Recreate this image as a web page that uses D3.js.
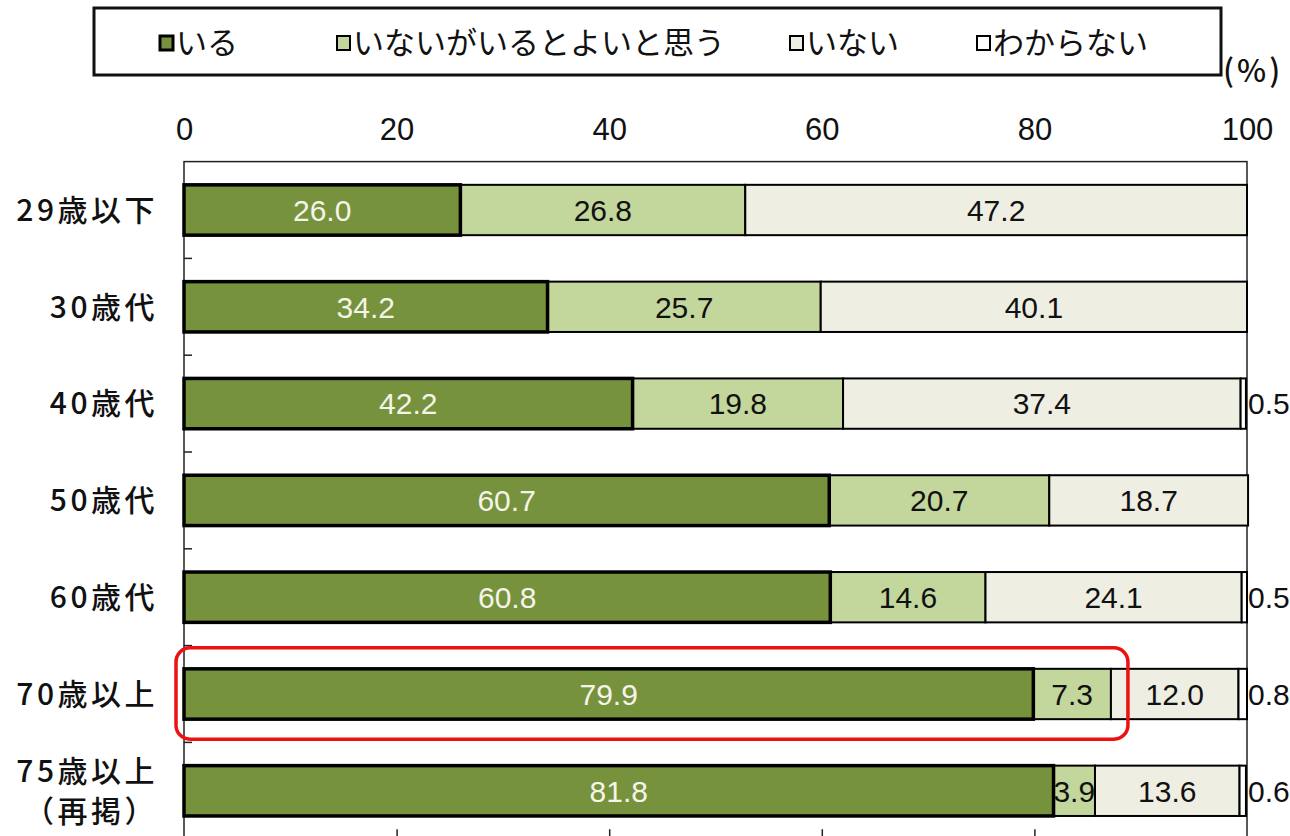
<!DOCTYPE html>
<html>
<head>
<meta charset="utf-8">
<script src="https://cdn.jsdelivr.net/npm/d3@7"></script>
<style>
  body { margin: 0; background: #fff; }
  svg { display: block; }
</style>
</head>
<body>
<div id="chart"></div>
<script>
// ── Data ──
const categories = ['29歳以下', '30歳代', '40歳代', '50歳代', '60歳代', '70歳以上', '75歳以上\n（再掲）'];
const seriesNames = ['いる', 'いないがいるとよいと思う', 'いない', 'わからない'];
const iru        = [26.0, 34.2, 42.2, 60.7, 60.8, 79.9, 81.8];
const inaiGaYoi  = [26.8, 25.7, 19.8, 20.7, 14.6, 7.3, 3.9];
const inai       = [47.2, 40.1, 37.4, 18.7, 24.1, 12.0, 13.6];
const wakaranai  = [0, 0, 0.5, 0, 0.5, 0.8, 0.6];
const xTicks = [0, 20, 40, 60, 80, 100];
const highlighted = '70歳以上';

// ── Layout / style ──
const W = 1290, H = 836;
const COL = ['#76923c', '#c3d69b', '#eeeee2', '#ffffff'];
const STROKE_W = [3.5, 2, 2, 2];
const LABEL_COL = ['#f4f4e8', '#111', '#111', '#111'];
const legendX = [160, 337, 790, 977];
const NUM_FONT = "'Liberation Sans', Arial, sans-serif";
const JP_FONT = "'Noto Sans CJK JP', 'Noto Sans', sans-serif";

const rows = categories.map((c, i) => ({
  cat: c,
  values: [iru[i], inaiGaYoi[i], inai[i], wakaranai[i]],
}));

const svg = d3.select('#chart').append('svg')
  .attr('width', W).attr('height', H)
  .attr('viewBox', `0 0 ${W} ${H}`);

const x = d3.scaleLinear().domain([0, 100]).range([184, 1247]);
const y = d3.scaleBand().domain(categories).range([161.6, 839.2])
  .paddingInner(0.48).paddingOuter(0.24);

// Plot frame
svg.append('rect')
  .attr('x', x(0)).attr('y', y.range()[0])
  .attr('width', x(100) - x(0)).attr('height', y.range()[1] - y.range()[0])
  .attr('fill', 'none').attr('stroke', '#222').attr('stroke-width', 1.5);

// Top tick labels
const topAxis = svg.append('g')
  .attr('transform', `translate(0,${y.range()[0]})`)
  .call(d3.axisTop(x).tickValues(xTicks).tickSize(0).tickPadding(22));
topAxis.select('.domain').remove();
topAxis.selectAll('text')
  .attr('font-family', NUM_FONT).attr('font-size', 31).attr('fill', '#111');

// Bottom ticks (inward)
const botAxis = svg.append('g')
  .attr('transform', `translate(0,${y.range()[1]})`)
  .call(d3.axisBottom(x).tickValues(xTicks.slice(1, -1)).tickSize(-10).tickFormat(''));
botAxis.select('.domain').remove();
botAxis.selectAll('line').attr('stroke', '#222').attr('stroke-width', 1.5);

// Category separator ticks on left axis
const step = y.step();
svg.append('g').selectAll('line')
  .data(categories.slice(1))
  .join('line')
  .attr('x1', x(0)).attr('x2', x(0) + 8)
  .attr('y1', (d, i) => y.range()[0] + (i + 1) * step)
  .attr('y2', (d, i) => y.range()[0] + (i + 1) * step)
  .attr('stroke', '#222').attr('stroke-width', 1.5);

// Category labels
const catG = svg.append('g');
rows.forEach(r => {
  const lines = r.cat.split('\n');
  const cy = y(r.cat) + y.bandwidth() / 2;
  const t = catG.append('text')
    .attr('x', 158).attr('text-anchor', 'end')
    .attr('font-family', JP_FONT).attr('font-size', 30).attr('font-weight', 500)
    .attr('letter-spacing', 3.5)
    .attr('fill', '#111');
  lines.forEach((ln, j) => {
    t.append('tspan')
      .attr('x', 158)
      .attr('y', cy + (j - (lines.length - 1) / 2) * 40)
      .attr('dy', '0.36em')
      .text(ln);
  });
});

// Bars
const segs = [];
rows.forEach(r => {
  let acc = 0;
  r.values.forEach((v, k) => {
    segs.push({ cat: r.cat, k, v, x0: acc, x1: acc + v });
    acc += v;
  });
});

const barG = svg.append('g');
// draw light series first so the thick いる border sits on top
[1, 2, 3, 0].forEach(k => {
  barG.selectAll(`rect.s${k}`)
    .data(segs.filter(s => s.k === k && s.v > 0))
    .join('rect')
    .attr('class', `s${k}`)
    .attr('x', d => x(d.x0)).attr('y', d => y(d.cat))
    .attr('width', d => x(d.x1) - x(d.x0)).attr('height', y.bandwidth())
    .attr('fill', COL[k]).attr('stroke', '#000').attr('stroke-width', STROKE_W[k]);
});

// Value labels
barG.selectAll('text.val')
  .data(segs.filter(s => s.v > 0))
  .join('text')
  .attr('class', 'val')
  .attr('x', d => d.v < 1 ? x(100) + 1 : (x(d.x0) + x(d.x1)) / 2)
  .attr('y', d => y(d.cat) + y.bandwidth() / 2)
  .attr('dy', '0.36em')
  .attr('text-anchor', d => d.v < 1 ? 'start' : 'middle')
  .attr('font-family', NUM_FONT).attr('font-size', 30)
  .attr('fill', d => LABEL_COL[d.k])
  .text(d => d.v.toFixed(1));

// Highlight box
const hRow = rows.find(r => r.cat === highlighted);
svg.append('rect')
  .attr('x', x(0) - 8)
  .attr('y', y(highlighted) - 21)
  .attr('width', x(hRow.values[0] + hRow.values[1]) + 17 - (x(0) - 8))
  .attr('height', y.bandwidth() + 41)
  .attr('rx', 14)
  .attr('fill', 'none').attr('stroke', '#ee1111').attr('stroke-width', 3.5);

// Legend
svg.append('rect')
  .attr('x', 94).attr('y', 8).attr('width', 1127).attr('height', 67)
  .attr('fill', '#fff').attr('stroke', '#111').attr('stroke-width', 3);

const leg = svg.append('g').selectAll('g')
  .data(seriesNames)
  .join('g')
  .attr('transform', (d, i) => `translate(${legendX[i]},43)`);
leg.append('rect')
  .attr('x', 0).attr('y', -7).attr('width', 13).attr('height', 14)
  .attr('fill', (d, i) => COL[i]).attr('stroke', '#000')
  .attr('stroke-width', (d, i) => i === 0 ? 3 : 2);
leg.append('text')
  .attr('x', 16).attr('dy', '0.36em')
  .attr('font-family', JP_FONT).attr('font-size', 31)
  .attr('fill', '#111')
  .text(d => d);

// Unit
svg.append('text')
  .attr('x', 1223).attr('y', 71).attr('dy', '0.36em')
  .attr('font-family', JP_FONT).attr('font-size', 31).attr('font-weight', 500)
  .attr('letter-spacing', 3)
  .attr('fill', '#111')
  .text('(%)');
</script>
</body>
</html>
